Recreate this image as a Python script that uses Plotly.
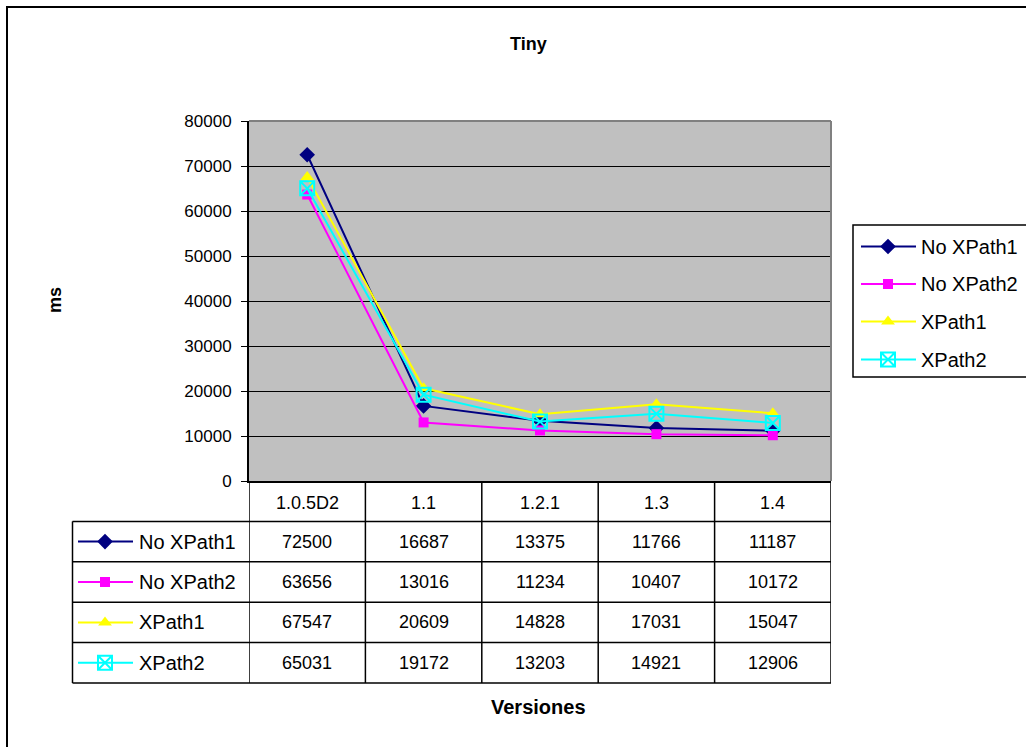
import plotly.graph_objects as go

# ---------------- data ----------------
versions = ["1.0.5D2", "1.1", "1.2.1", "1.3", "1.4"]
series_names = ["No XPath1", "No XPath2", "XPath1", "XPath2"]
no_xpath1 = [72500, 16687, 13375, 11766, 11187]
no_xpath2 = [63656, 13016, 11234, 10407, 10172]
xpath1 = [67547, 20609, 14828, 17031, 15047]
xpath2 = [65031, 19172, 13203, 14921, 12906]
y_ticks = [0, 10000, 20000, 30000, 40000, 50000, 60000, 70000, 80000]
chart_title = "Tiny"
y_title = "ms"
x_title = "Versiones"

series_values = [no_xpath1, no_xpath2, xpath1, xpath2]

# ---------------- styles ----------------
W, H = 1026, 747
FONT = "Arial, 'Liberation Sans', sans-serif"
FS_TICK = 17
FS_VAL = 18
FS_NAME = 20
FS_TITLE = 18
styles = [
    dict(color="#000080", symbol="diamond", size=12, mline=0),
    dict(color="#FF00FF", symbol="square", size=10, mline=0),
    dict(color="#FFFF00", symbol="triangle-up", size=12, mline=0),
    dict(color="#00FFFF", symbol="square-x-open", size=14, mline=2),
]

PX0, PX1, PY0, PY1 = 249, 831, 121, 481   # plot area in pixels
TABLE_LEFT = 72.5
TABLE_BOTTOM = 683
ROW_H = (TABLE_BOTTOM - PY1) / 5


def px(x):
    return x / W


def py(y):
    return 1 - y / H


fig = go.Figure()

# main series
idx = list(range(len(versions)))
for name, vals, st in zip(series_names, series_values, styles):
    fig.add_trace(go.Scatter(
        x=idx, y=vals, name=name, mode="lines+markers",
        line=dict(color=st["color"], width=2),
        marker=dict(symbol=st["symbol"], size=st["size"], color=st["color"],
                    line=dict(width=st["mline"], color=st["color"])),
        showlegend=False, cliponaxis=False,
    ))

shapes = []
annotations = []

# plot area background + gray top/right frame
shapes.append(dict(type="rect", xref="x domain", yref="y domain", x0=0, x1=1, y0=0, y1=1,
                   fillcolor="#C0C0C0", line=dict(width=0), layer="below"))
shapes.append(dict(type="line", xref="x domain", yref="y domain", x0=0, x1=1, y0=1, y1=1,
                   line=dict(color="#808080", width=2)))
shapes.append(dict(type="line", xref="x domain", yref="y domain", x0=1, x1=1, y0=0, y1=1,
                   line=dict(color="#808080", width=2)))

# outer chart border
shapes.append(dict(type="rect", xref="paper", yref="paper", x0=px(7), x1=px(W + 20),
                   y0=py(H + 20), y1=py(7), line=dict(color="#000000", width=2)))

# data table grid
row_edges = [PY1 + ROW_H * k for k in range(6)]
tl = dict(color="#000000", width=1.5)
for i in range(len(versions) + 1):
    shapes.append(dict(type="line", xref="x", yref="paper", x0=i - 0.5, x1=i - 0.5,
                       y0=py(PY1), y1=py(TABLE_BOTTOM), line=tl))
for k in range(1, 6):
    shapes.append(dict(type="line", xref="paper", yref="paper", x0=px(TABLE_LEFT), x1=px(PX1),
                       y0=py(row_edges[k]), y1=py(row_edges[k]), line=tl))
shapes.append(dict(type="line", xref="paper", yref="paper", x0=px(TABLE_LEFT), x1=px(TABLE_LEFT),
                   y0=py(row_edges[1]), y1=py(TABLE_BOTTOM), line=tl))

val_font = dict(family=FONT, size=FS_VAL, color="#000000")
name_font = dict(family=FONT, size=FS_NAME, color="#000000")
# header row: categories
for i, v in enumerate(versions):
    annotations.append(dict(x=i, y=py((row_edges[0] + row_edges[1]) / 2 + 2), xref="x", yref="paper",
                            text=v, showarrow=False, font=val_font, xanchor="center", yanchor="middle"))
# table rows
for r, (name, vals, st) in enumerate(zip(series_names, series_values, styles)):
    yc = (row_edges[r + 1] + row_edges[r + 2]) / 2
    for i, v in enumerate(vals):
        annotations.append(dict(x=i, y=py(yc), xref="x", yref="paper", text=str(v),
                                showarrow=False, font=val_font, xanchor="center", yanchor="middle"))
    annotations.append(dict(x=px(137), y=py(yc), xref="paper", yref="paper", text=name,
                            showarrow=False, font=name_font, xanchor="left", yanchor="middle"))
    # key in table
    fig.add_trace(go.Scatter(x=[78, 133], y=[yc, yc], xaxis="x2", yaxis="y2", mode="lines",
                             line=dict(color=st["color"], width=2), showlegend=False,
                             hoverinfo="skip", cliponaxis=False))
    fig.add_trace(go.Scatter(x=[105], y=[yc], xaxis="x2", yaxis="y2", mode="markers",
                             marker=dict(symbol=st["symbol"], size=st["size"], color=st["color"],
                                         line=dict(width=st["mline"], color=st["color"])),
                             showlegend=False, hoverinfo="skip", cliponaxis=False))

# legend box (manual, to match spacing)
LEG_TOP, LEG_BOTTOM, LEG_LEFT = 225, 377, 853
shapes.append(dict(type="rect", xref="paper", yref="paper", x0=px(LEG_LEFT), x1=px(W + 20),
                   y0=py(LEG_BOTTOM), y1=py(LEG_TOP), line=dict(color="#000000", width=1.5)))
leg_rows = [246.5, 284, 321.5, 359.5]
for name, st, yc in zip(series_names, styles, leg_rows):
    fig.add_trace(go.Scatter(x=[861, 916], y=[yc, yc], xaxis="x2", yaxis="y2", mode="lines",
                             line=dict(color=st["color"], width=2), showlegend=False,
                             hoverinfo="skip", cliponaxis=False))
    fig.add_trace(go.Scatter(x=[888], y=[yc], xaxis="x2", yaxis="y2", mode="markers",
                             marker=dict(symbol=st["symbol"], size=st["size"], color=st["color"],
                                         line=dict(width=st["mline"], color=st["color"])),
                             showlegend=False, hoverinfo="skip", cliponaxis=False))
    annotations.append(dict(x=px(919), y=py(yc), xref="paper", yref="paper", text=name,
                            showarrow=False, font=name_font, xanchor="left", yanchor="middle"))

# titles
bold = dict(family=FONT, size=FS_TITLE, color="#000000")
annotations.append(dict(x=px(528), y=py(44), xref="paper", yref="paper", text="<b>%s</b>" % chart_title,
                        showarrow=False, font=bold, xanchor="center", yanchor="middle"))
annotations.append(dict(x=px(55), y=py(300), xref="paper", yref="paper", text="<b>%s</b>" % y_title,
                        showarrow=False, font=bold, textangle=-90, xanchor="center", yanchor="middle"))
annotations.append(dict(x=px(538), y=py(707), xref="paper", yref="paper", text="<b>%s</b>" % x_title,
                        showarrow=False, font=dict(family=FONT, size=20, color="#000000"),
                        xanchor="center", yanchor="middle"))

fig.update_layout(
    width=W, height=H, autosize=False,
    margin=dict(l=0, r=0, t=0, b=0, pad=0, autoexpand=False),
    paper_bgcolor="#FFFFFF", plot_bgcolor="rgba(0,0,0,0)",
    font=dict(family=FONT, size=FS_TICK, color="#000000"),
    showlegend=False,
    xaxis=dict(domain=[px(PX0), px(PX1)], range=[-0.5, len(versions) - 0.5], tickvals=idx,
               showticklabels=False, ticks="", showgrid=False, zeroline=False,
               showline=True, linecolor="#000000", linewidth=2, fixedrange=True, automargin=False),
    yaxis=dict(domain=[py(PY1), py(PY0)], range=[0, 80000], tickvals=y_ticks,
               ticktext=[str(t) for t in y_ticks],
               ticks="outside", ticklen=6, tickcolor="#000000", tickwidth=1, ticklabelstandoff=6,
               showgrid=True, gridcolor="#000000", gridwidth=1, zeroline=False,
               showline=True, linecolor="#000000", linewidth=2, automargin=False,
               tickfont=dict(family=FONT, size=FS_TICK, color="#000000"), fixedrange=True),
    xaxis2=dict(domain=[0, 1], range=[0, W], anchor="y2", visible=False, fixedrange=True,
                automargin=False),
    yaxis2=dict(domain=[0, 1], range=[H, 0], anchor="x2", visible=False, fixedrange=True,
                automargin=False),
    shapes=shapes,
    annotations=annotations,
)

fig.write_html("out.html", config={"displayModeBar": False},
               post_script="document.body.style.margin='0';")
